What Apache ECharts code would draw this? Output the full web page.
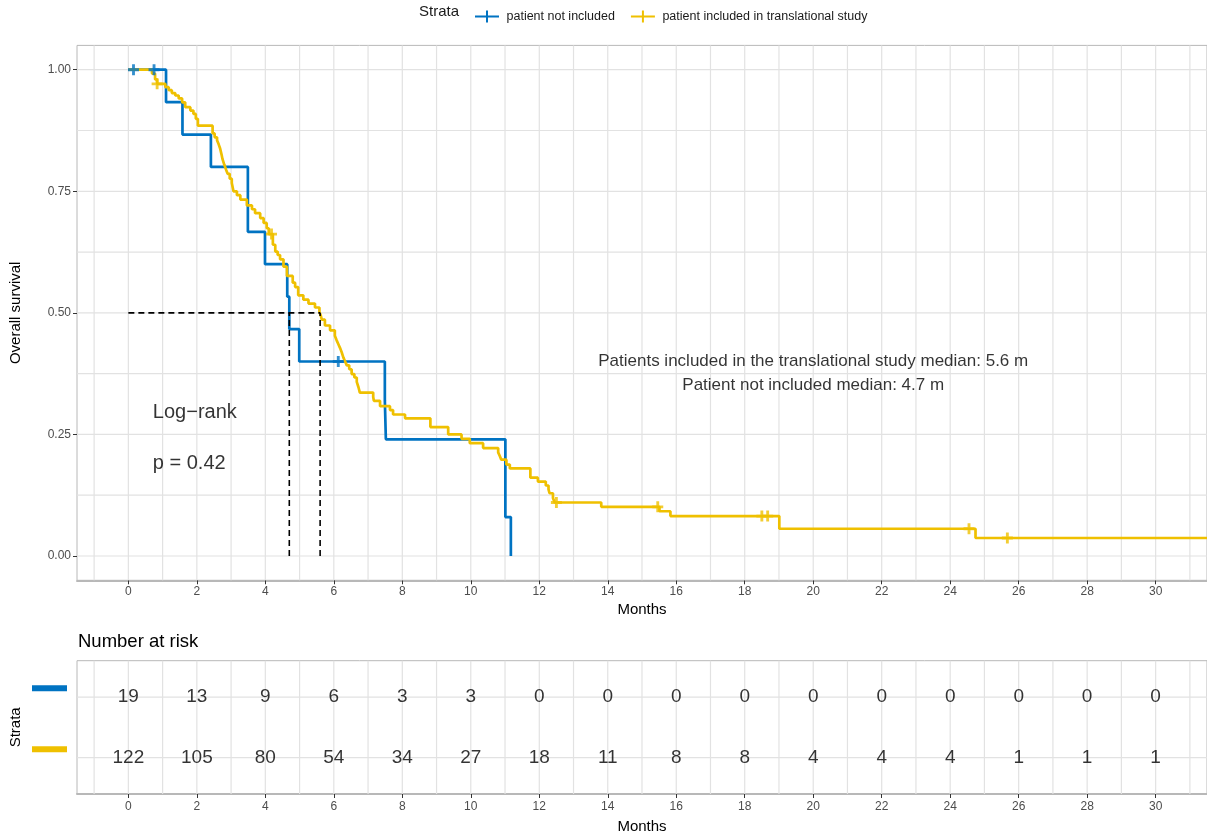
<!DOCTYPE html>
<html>
<head>
<meta charset="utf-8">
<script src="https://cdn.jsdelivr.net/npm/echarts@6/dist/echarts.min.js"></script>
<style>
  html, body { margin: 0; padding: 0; background: #ffffff; }
  #chart { width: 1207px; height: 836px; }
</style>
</head>
<body>
<div id="chart"></div>
<script>
// ---- Strata ----
const strataNames = ['patient not included', 'patient included in translational study'];
const strataColors = ['#0073C2', '#EFC000'];

// ---- Kaplan–Meier estimates: time (months) and survival after each drop ----
const notIncludedTime = [0, 1.10, 1.58, 2.41, 3.49, 3.99, 4.64, 4.70, 4.99, 7.49, 7.52, 11.01, 11.17];
const notIncludedSurv = [1, 0.9333, 0.8667, 0.8, 0.6667, 0.6, 0.5333, 0.4667, 0.4, 0.32, 0.24, 0.08, 0];
const notIncludedCensorTime = [0.15, 0.75, 6.13];
const notIncludedCensorSurv = [1, 1, 0.4];

const includedTime = [0, 0.69, 0.78, 0.84, 1.08, 1.18, 1.27, 1.37, 1.47, 1.57, 1.66, 1.81, 1.90, 1.97, 2.03,
  2.46, 2.52, 2.59, 2.64, 2.68, 2.72, 2.75, 2.80, 2.85, 2.90, 2.96, 3.02, 3.07, 3.17, 3.27, 3.46, 3.61, 3.70,
  3.85, 3.95, 4.04, 4.10, 4.22, 4.29, 4.36, 4.43, 4.53, 4.63, 4.80, 4.87, 4.96, 5.11, 5.26, 5.45, 5.58, 5.62,
  5.65, 5.74, 5.89, 6.03, 6.08, 6.13, 6.18, 6.23, 6.28, 6.33, 6.38, 6.45, 6.52, 6.60, 6.67, 6.72, 6.76, 7.15,
  7.17, 7.35, 7.64, 7.73, 8.08, 8.82, 9.34, 9.73, 9.97, 10.36, 10.80, 10.85, 10.89, 11.04, 11.14, 11.74, 11.96,
  12.19, 12.27, 12.30, 12.40, 12.45, 13.81, 15.51, 15.83, 19.01, 24.74, 32.0];
const includedSurv = [1.000, 0.992, 0.980, 0.971, 0.964, 0.958, 0.952, 0.947, 0.941, 0.933, 0.923, 0.916, 0.909, 0.899, 0.885,
  0.869, 0.861, 0.855, 0.846, 0.838, 0.826, 0.816, 0.805, 0.795, 0.786, 0.776, 0.767, 0.750, 0.742, 0.733, 0.721, 0.713, 0.705,
  0.695, 0.685, 0.674, 0.662, 0.640, 0.626, 0.619, 0.610, 0.595, 0.576, 0.562, 0.553, 0.536, 0.527, 0.519, 0.511, 0.502, 0.494,
  0.486, 0.474, 0.464, 0.453, 0.444, 0.436, 0.428, 0.419, 0.408, 0.400, 0.392, 0.384, 0.374, 0.367, 0.358, 0.347, 0.336, 0.327,
  0.319, 0.308, 0.300, 0.291, 0.283, 0.265, 0.250, 0.241, 0.232, 0.222, 0.213, 0.205, 0.198, 0.188, 0.180, 0.161, 0.153,
  0.145, 0.137, 0.129, 0.119, 0.110, 0.101, 0.092, 0.082, 0.056, 0.037, 0.037];
const includedCensorTime = [0.84, 4.18, 12.50, 15.46, 18.50, 18.67, 24.55, 25.67];
const includedCensorSurv = [0.971, 0.662, 0.110, 0.101, 0.082, 0.082, 0.056, 0.037];

// ---- Medians ----
const medianSurvival = 0.5;
const medianTimes = [4.7, 5.6];

// ---- Text annotations ----
const medianNotes = ['Patients included in the translational study median: 5.6 m', 'Patient not included median: 4.7 m'];
const medianNoteX = [20, 20];
const medianNoteY = [0.40, 0.35];
const testNotes = ['Log\u2212rank', 'p = 0.42'];
const testNoteX = [0.7, 0.7];
const testNoteY = [0.295, 0.19];

// ---- Axes ----
const monthTicks = [0, 2, 4, 6, 8, 10, 12, 14, 16, 18, 20, 22, 24, 26, 28, 30];
const monthGrid = [-1, 0, 1, 2, 3, 4, 5, 6, 7, 8, 9, 10, 11, 12, 13, 14, 15, 16, 17, 18, 19, 20, 21, 22, 23, 24, 25, 26, 27, 28, 29, 30, 31];
const survTicks = [0, 0.25, 0.5, 0.75, 1];
const survGrid = [0, 0.125, 0.25, 0.375, 0.5, 0.625, 0.75, 0.875, 1];

// ---- Number at risk ----
const riskTimes = [0, 2, 4, 6, 8, 10, 12, 14, 16, 18, 20, 22, 24, 26, 28, 30];
const riskNotIncluded = [19, 13, 9, 6, 3, 3, 0, 0, 0, 0, 0, 0, 0, 0, 0, 0];
const riskIncluded = [122, 105, 80, 54, 34, 27, 18, 11, 8, 8, 4, 4, 4, 1, 1, 1];
const riskRows = [2, 1]; // row of each stratum in the table (first stratum on top)

// ---------------------------------------------------------------
const FONT = "'Liberation Sans', Arial, Helvetica, sans-serif";
const AXIS_TEXT = '#4d4d4d';
const GRID_LINE = '#e2e2e2';
const BORDER = '#b8b8b8';
const PLUS = 'path://M3.7,0H6.3V3.7H10V6.3H6.3V10H3.7V6.3H0V3.7H3.7Z';
const LEGEND_ICON = 'path://M0,5H11V0H13V5H24V7H13V12H11V7H0Z';

const zip = (a, b) => a.map((v, i) => [v, b[i]]);

function gridLines(idx, values, vertical, z) {
  return {
    type: 'custom', xAxisIndex: idx, yAxisIndex: idx, silent: true, z: z || 1,
    data: values.map(v => [v]),
    renderItem(params, api) {
      const cs = params.coordSys;
      const v = api.value(0);
      if (vertical) {
        const x = api.coord([v, 0.5])[0];
        return { type: 'line', shape: { x1: x, y1: cs.y, x2: x, y2: cs.y + cs.height },
                 style: { stroke: GRID_LINE, lineWidth: 1.2 } };
      }
      const y = api.coord([0, v])[1];
      return { type: 'line', shape: { x1: cs.x, y1: y, x2: cs.x + cs.width, y2: y },
               style: { stroke: GRID_LINE, lineWidth: 1.2 } };
    }
  };
}

function textSeries(idx, xs, ys, texts, opts) {
  return {
    type: 'scatter', xAxisIndex: idx, yAxisIndex: idx, silent: true, z: 6,
    symbol: 'circle', symbolSize: 1, itemStyle: { color: 'rgba(0,0,0,0)' },
    data: xs.map((x, i) => ({ value: [x, ys[i]], label: { formatter: String(texts[i]) } })),
    label: Object.assign({ show: true, color: '#000000', textBorderWidth: 0, fontFamily: FONT }, opts)
  };
}

const series = [
  gridLines(0, monthGrid, true),
  gridLines(0, survGrid, false),
  gridLines(1, monthGrid, true),
  gridLines(1, riskRows, false),
  {
    name: strataNames[0], type: 'line', step: 'end', xAxisIndex: 0, yAxisIndex: 0,
    data: zip(notIncludedTime, notIncludedSurv), showSymbol: false, z: 3,
    lineStyle: { color: strataColors[0], width: 2.7 }, itemStyle: { color: strataColors[0] }
  },
  {
    name: strataNames[1], type: 'line', step: 'end', xAxisIndex: 0, yAxisIndex: 0,
    data: zip(includedTime, includedSurv), showSymbol: false, z: 4,
    lineStyle: { color: strataColors[1], width: 2.7 }, itemStyle: { color: strataColors[1] }
  },
  {
    name: strataNames[0], type: 'scatter', xAxisIndex: 0, yAxisIndex: 0, z: 4,
    symbol: PLUS, symbolSize: 11, data: zip(notIncludedCensorTime, notIncludedCensorSurv),
    itemStyle: { color: strataColors[0] }
  },
  {
    name: strataNames[1], type: 'scatter', xAxisIndex: 0, yAxisIndex: 0, z: 5,
    symbol: PLUS, symbolSize: 11, data: zip(includedCensorTime, includedCensorSurv),
    itemStyle: { color: strataColors[1] }
  }
];

// Dashed guides at the medians
const medianLineStyle = { color: '#000000', width: 1.6, type: [6, 4] };
series.push({
  type: 'line', xAxisIndex: 0, yAxisIndex: 0, silent: true, showSymbol: false, z: 5,
  data: [[0, medianSurvival], [Math.max(...medianTimes), medianSurvival]], lineStyle: medianLineStyle
});
medianTimes.forEach(t => series.push({
  type: 'line', xAxisIndex: 0, yAxisIndex: 0, silent: true, showSymbol: false, z: 5,
  data: [[t, 0], [t, medianSurvival]], lineStyle: medianLineStyle
}));

series.push(textSeries(0, medianNoteX, medianNoteY, medianNotes, { position: 'inside', fontSize: 17 }));
series.push(textSeries(0, testNoteX, testNoteY, testNotes, { position: 'right', distance: 0, fontSize: 20 }));
series.push(textSeries(1, riskTimes, riskTimes.map(() => riskRows[0]), riskNotIncluded, { position: 'inside', fontSize: 19 }));
series.push(textSeries(1, riskTimes, riskTimes.map(() => riskRows[1]), riskIncluded, { position: 'inside', fontSize: 19 }));

const X_MIN = -1.5, X_MAX = 31.5;
const plotLeft = 76.8, plotWidth = 1133.6;

function monthAxis(idx, labelMargin, nameGap) {
  return {
    type: 'value', gridIndex: idx, min: X_MIN, max: X_MAX,
    name: 'Months', nameLocation: 'middle', nameGap: nameGap,
    nameTextStyle: { fontFamily: FONT, fontSize: 15, color: '#000000' },
    axisLine: { show: true, onZero: false, lineStyle: { color: BORDER, width: 2 } },
    axisTick: { show: true, customValues: monthTicks, length: 4, lineStyle: { color: '#333333', width: 1 } },
    axisLabel: { show: true, customValues: monthTicks, margin: labelMargin, fontFamily: FONT, fontSize: 12, color: AXIS_TEXT },
    splitLine: { show: false }, minorSplitLine: { show: false }
  };
}

const option = {
  animation: false,
  backgroundColor: '#ffffff',
  textStyle: { fontFamily: FONT },
  legend: {
    data: strataNames.map(n => ({ name: n, icon: LEGEND_ICON })),
    left: 470, top: 5, itemWidth: 25, itemHeight: 12, itemGap: 16,
    textStyle: { fontFamily: FONT, fontSize: 12.5, color: '#1a1a1a', padding: [0, 0, 0, 2] },
    selectedMode: false
  },
  graphic: [
    { type: 'text', x: 419, y: 12, silent: true,
      style: { text: 'Strata', fontFamily: FONT, fontSize: 15, fill: '#1a1a1a', verticalAlign: 'middle' } },
    { type: 'text', x: 78, y: 642, silent: true,
      style: { text: 'Number at risk', fontFamily: FONT, fontSize: 18.5, fill: '#000000', verticalAlign: 'middle' } },
    { type: 'rect', x: 32, y: 685.3, silent: true, shape: { width: 35, height: 6 }, style: { fill: strataColors[0] } },
    { type: 'rect', x: 32, y: 746.3, silent: true, shape: { width: 35, height: 6 }, style: { fill: strataColors[1] } }
  ],
  grid: [
    { left: plotLeft, top: 45.4, width: plotWidth, height: 534.9, show: true,
      backgroundColor: '#ffffff', borderColor: BORDER, borderWidth: 1 },
    { left: plotLeft, top: 660.7, width: plotWidth, height: 133.3, show: true,
      backgroundColor: '#ffffff', borderColor: BORDER, borderWidth: 1 }
  ],
  xAxis: [monthAxis(0, 5, 22), monthAxis(1, 7, 25)],
  yAxis: [
    {
      type: 'value', gridIndex: 0, min: -0.05, max: 1.05,
      name: 'Overall survival', nameLocation: 'middle', nameGap: 54, nameRotate: 90,
      nameTextStyle: { fontFamily: FONT, fontSize: 15, color: '#000000' },
      axisLine: { show: false, onZero: false },
      axisTick: { show: true, customValues: survTicks, length: 4, lineStyle: { color: '#333333', width: 1 } },
      axisLabel: { show: true, customValues: survTicks, margin: 6, fontFamily: FONT, fontSize: 12, color: AXIS_TEXT,
                   formatter: v => Number(v).toFixed(2) },
      splitLine: { show: false }
    },
    {
      type: 'value', gridIndex: 1, min: 0.4, max: 2.6,
      name: 'Strata', nameLocation: 'middle', nameGap: 54, nameRotate: 90,
      nameTextStyle: { fontFamily: FONT, fontSize: 15, color: '#000000' },
      axisLine: { show: false, onZero: false }, axisTick: { show: false }, axisLabel: { show: false },
      splitLine: { show: false }
    }
  ],
  series: series
};

const chart = echarts.init(document.getElementById('chart'), null, { renderer: 'canvas' });
chart.setOption(option);
</script>
</body>
</html>
